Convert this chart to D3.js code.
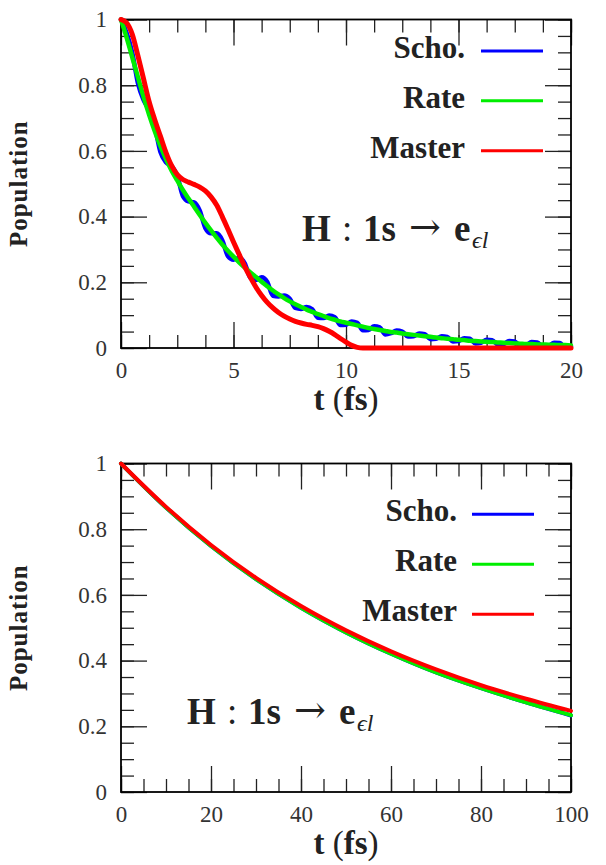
<!DOCTYPE html>
<html><head><meta charset="utf-8">
<script src="https://cdn.jsdelivr.net/npm/d3@7"></script>
<style>body{margin:0;background:#fff}svg{display:block}</style>
</head><body>
<svg id="c" width="606" height="865"></svg>
<script>
// ---------- DATA ----------
const seriesNames = ["Scho.", "Rate", "Master"];
const seriesColors = ["#0000ff", "#00ee00", "#ff0000"];

// Top panel (0-20 fs)
const topTime = [0,0.25,0.5,0.75,1,1.25,1.5,1.75,2,2.25,2.5,2.75,3,3.25,3.5,3.75,4,4.25,4.5,4.75,5,5.25,5.5,5.75,6,6.25,6.5,6.75,7,7.25,7.5,7.75,8,8.25,8.5,8.75,9,9.25,9.5,9.75,10,10.25,10.5,10.75,11,11.25,11.5,11.75,12,12.25,12.5,12.75,13,13.25,13.5,13.75,14,14.25,14.5,14.75,15,15.25,15.5,15.75,16,16.25,16.5,16.75,17,17.25,17.5,17.75,18,18.25,18.5,18.75,19,19.25,19.5,19.75,20];
const topScho = [1.000,0.959,0.899,0.807,0.755,0.724,0.674,0.597,0.565,0.554,0.524,0.463,0.446,0.443,0.418,0.365,0.349,0.349,0.328,0.280,0.269,0.274,0.258,0.214,0.207,0.215,0.201,0.159,0.157,0.160,0.150,0.122,0.119,0.125,0.118,0.092,0.091,0.099,0.094,0.070,0.071,0.081,0.077,0.054,0.055,0.066,0.063,0.041,0.045,0.053,0.050,0.035,0.036,0.044,0.042,0.027,0.028,0.036,0.034,0.020,0.021,0.030,0.028,0.014,0.016,0.025,0.024,0.010,0.012,0.021,0.020,0.006,0.008,0.018,0.017,0.004,0.006,0.016,0.015,0.002,0.004];
const topRate = [1.000,0.945,0.885,0.825,0.765,0.710,0.660,0.615,0.575,0.540,0.510,0.481,0.455,0.430,0.405,0.381,0.358,0.336,0.315,0.296,0.278,0.261,0.245,0.230,0.216,0.202,0.188,0.175,0.163,0.152,0.142,0.133,0.125,0.117,0.110,0.103,0.097,0.091,0.086,0.081,0.077,0.073,0.069,0.065,0.061,0.058,0.055,0.052,0.049,0.047,0.044,0.042,0.040,0.038,0.036,0.034,0.032,0.030,0.028,0.027,0.025,0.024,0.022,0.021,0.020,0.019,0.018,0.017,0.016,0.015,0.014,0.013,0.012,0.012,0.011,0.011,0.010,0.010,0.009,0.009,0.008];
const topMaster = [1.000,0.990,0.955,0.890,0.820,0.750,0.695,0.645,0.595,0.555,0.528,0.513,0.505,0.498,0.490,0.478,0.460,0.435,0.400,0.362,0.323,0.285,0.248,0.215,0.185,0.160,0.139,0.122,0.108,0.097,0.088,0.081,0.076,0.072,0.069,0.065,0.059,0.051,0.041,0.029,0.018,0.008,0.002,0,0,0,0,0,0,0,0,0,0,0,0,0,0,0,0,0,0,0,0,0,0,0,0,0,0,0,0,0,0,0,0,0,0,0,0,0,0];

// Bottom panel (0-100 fs)
const botTime = [0,10,20,30,40,50,60,70,80,90,100];
const botScho = [1.000,0.866,0.749,0.648,0.561,0.486,0.421,0.364,0.316,0.273,0.233];
const botRate = [1.000,0.866,0.749,0.648,0.561,0.486,0.421,0.364,0.316,0.273,0.234];
const botMaster = [1.000,0.868,0.752,0.652,0.566,0.492,0.428,0.373,0.325,0.284,0.247];

// Ticks
const topXMajor = [0,5,10,15,20];
const topXLabels = ["0","5","10","15","20"];
const topXMinor = [0,1.25,2.5,3.75,5,6.25,7.5,8.75,10,11.25,12.5,13.75,15,16.25,17.5,18.75,20];
const botXMajor = [0,20,40,60,80,100];
const botXLabels = ["0","20","40","60","80","100"];
const botXMinor = [0,5,10,15,20,25,30,35,40,45,50,55,60,65,70,75,80,85,90,95,100];
const yMajor = [0,0.2,0.4,0.6,0.8,1];
const yLabels = ["0","0.2","0.4","0.6","0.8","1"];
const yMinor = [0,0.05,0.1,0.15,0.2,0.25,0.3,0.35,0.4,0.45,0.5,0.55,0.6,0.65,0.7,0.75,0.8,0.85,0.9,0.95,1];

// ---------- DRAW ----------
const FONT = "Liberation Serif, DejaVu Serif, serif";
const svg = d3.select("#c");

function styleAxis(sel){
  sel.attr("font-family", FONT);
  sel.select(".domain").remove();
  sel.selectAll(".tick line").attr("stroke","#222").attr("stroke-width",1.3);
  sel.selectAll(".tick text").attr("font-family",FONT).attr("font-size",23).attr("fill","#333");
}

function drawPanel(p){
  const g = svg.append("g");
  const x = d3.scaleLinear().domain(p.xDomain).range([p.left,p.right]);
  const y = d3.scaleLinear().domain([0,1]).range([p.bottom,p.top]);
  const none = () => "";

  g.append("g").attr("transform",`translate(0,${p.bottom})`)
    .call(d3.axisBottom(x).tickValues(p.xMinor).tickSize(-13).tickFormat(none)).call(styleAxis);
  g.append("g").attr("transform",`translate(0,${p.bottom})`)
    .call(d3.axisBottom(x).tickValues(p.xMajor).tickSize(-26).tickPadding(14).tickFormat((d,i)=>p.xLabels[i])).call(styleAxis);
  g.append("g").attr("transform",`translate(0,${p.top})`)
    .call(d3.axisTop(x).tickValues(p.xMinor).tickSize(-13).tickFormat(none)).call(styleAxis);
  g.append("g").attr("transform",`translate(0,${p.top})`)
    .call(d3.axisTop(x).tickValues(p.xMajor).tickSize(-26).tickFormat(none)).call(styleAxis);
  g.append("g").attr("transform",`translate(${p.left},0)`)
    .call(d3.axisLeft(y).tickValues(yMinor).tickSize(-13).tickFormat(none)).call(styleAxis);
  g.append("g").attr("transform",`translate(${p.left},0)`)
    .call(d3.axisLeft(y).tickValues(yMajor).tickSize(-26).tickPadding(14).tickFormat((d,i)=>yLabels[i])).call(styleAxis);
  g.append("g").attr("transform",`translate(${p.right},0)`)
    .call(d3.axisRight(y).tickValues(yMinor).tickSize(-13).tickFormat(none)).call(styleAxis);
  g.append("g").attr("transform",`translate(${p.right},0)`)
    .call(d3.axisRight(y).tickValues(yMajor).tickSize(-26).tickFormat(none)).call(styleAxis);

  g.append("rect").attr("x",p.left).attr("y",p.top)
    .attr("width",p.right-p.left).attr("height",p.bottom-p.top)
    .attr("fill","none").attr("stroke","#000").attr("stroke-width",1.8);

  const line = d3.line().x(d=>x(d[0])).y(d=>y(d[1])).curve(d3.curveMonotoneX);
  p.series.forEach((vals,i)=>{
    g.append("path").datum(d3.zip(p.time, vals))
      .attr("d",line).attr("fill","none")
      .attr("stroke",seriesColors[i]).attr("stroke-width",p.widths[i])
      .attr("stroke-linejoin","round").attr("stroke-linecap","round");
  });

  seriesNames.forEach((name,i)=>{
    const ly = p.legendY[i];
    g.append("line").attr("x1",p.legendX1).attr("x2",p.legendX2)
      .attr("y1",ly).attr("y2",ly).attr("stroke",seriesColors[i]).attr("stroke-width",3);
    g.append("text").attr("x",p.legendTextX).attr("y",ly+7)
      .attr("text-anchor","end").attr("font-family",FONT).attr("font-weight","bold")
      .attr("font-size",31).attr("fill","#222").text(name);
  });

  const a = g.append("text").attr("font-family",FONT).attr("fill","#222")
    .attr("font-size",37).attr("y",p.annY);
  const ax = p.annX;
  a.append("tspan").attr("x",ax).attr("font-weight","bold").text("H");
  a.append("tspan").attr("x",ax+40).text(":");
  a.append("tspan").attr("x",ax+61).attr("font-weight","bold").text("1s");
  a.append("tspan").attr("x",ax+107).attr("font-family","DejaVu Serif").attr("font-size",38).attr("dy",-1).text("→");
  a.append("tspan").attr("x",ax+152).attr("dy",1).attr("font-weight","bold").text("e");
  a.append("tspan").attr("x",ax+170).attr("dy",7).attr("font-size",24).attr("font-style","italic").text("ϵl");

  const xt = g.append("text").attr("x",(p.left+p.right)/2).attr("y",p.bottom+62)
    .attr("text-anchor","middle").attr("font-family",FONT).attr("font-size",33).attr("fill","#222");
  xt.append("tspan").attr("font-weight","bold").text("t");
  xt.append("tspan").text(" (");
  xt.append("tspan").attr("font-weight","bold").text("fs");
  xt.append("tspan").text(")");

  const cy = (p.top+p.bottom)/2;
  g.append("text").attr("transform",`translate(27,${cy}) rotate(-90)`)
    .attr("text-anchor","middle").attr("font-family",FONT).attr("font-weight","bold")
    .attr("font-size",25).attr("letter-spacing",1).attr("fill","#222").text("Population");
}

drawPanel({
  left:121, right:571, top:19.5, bottom:348,
  xDomain:[0,20], xMajor:topXMajor, xLabels:topXLabels, xMinor:topXMinor,
  time: topTime, series:[topScho, topRate, topMaster], widths:[4.5,4.5,5],
  legendY:[51,100.7,150.7], legendX1:481, legendX2:543, legendTextX:465,
  annX:302, annY:241
});
drawPanel({
  left:121, right:571, top:463.5, bottom:792,
  xDomain:[0,100], xMajor:botXMajor, xLabels:botXLabels, xMinor:botXMinor,
  time: botTime, series:[botScho, botRate, botMaster], widths:[4,4,4],
  legendY:[514.3,564.3,614.3], legendX1:472, legendX2:534, legendTextX:457,
  annX:187, annY:724
});
</script>
</body></html>
